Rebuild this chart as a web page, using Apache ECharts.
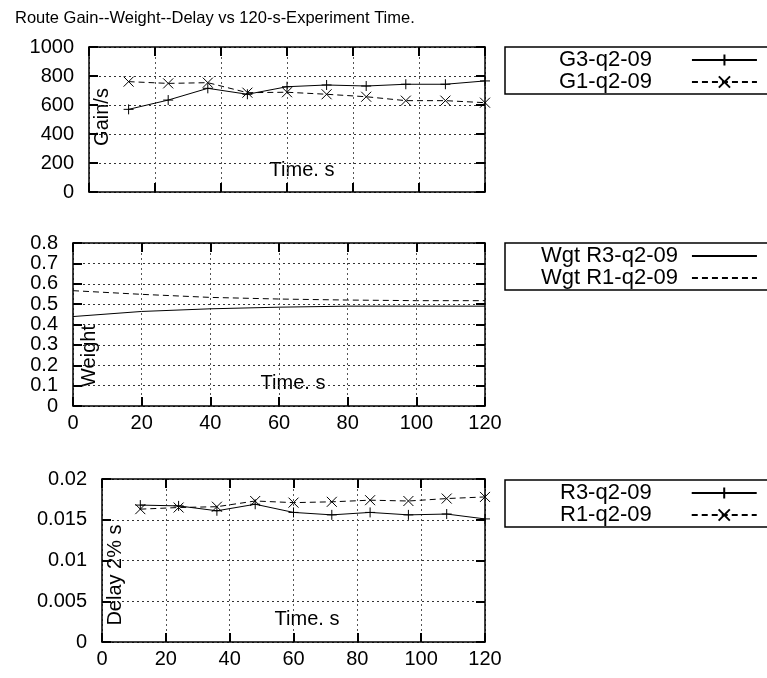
<!DOCTYPE html>
<html>
<head>
<meta charset="utf-8">
<script src="https://cdn.jsdelivr.net/npm/echarts@6/dist/echarts.min.js"></script>
<style>
html, body { margin: 0; padding: 0; background: #fff; }
#chart { width: 767px; height: 678px; }
</style>
</head>
<body>
<div id="chart"></div>
<script>
// sample times, s
var sampleTimes = [12, 24, 36, 48, 60, 72, 84, 96, 108, 120];
var gainG3 = [570, 634, 715, 674, 726, 738, 731, 743, 743, 766];
var gainG1 = [761, 749, 754, 685, 688, 674, 657, 630, 630, 616];

var weightTimes = [0, 20, 40, 60, 80, 100, 120];
var weightR3 = [0.439, 0.464, 0.477, 0.485, 0.490, 0.490, 0.490];
var weightR1 = [0.566, 0.548, 0.533, 0.525, 0.520, 0.517, 0.517];

var delayR3 = [0.0168, 0.0167, 0.0161, 0.0169, 0.0159, 0.0156, 0.0159, 0.0156, 0.0157, 0.0151];
var delayR1 = [0.0163, 0.0165, 0.0166, 0.0173, 0.0171, 0.0172, 0.0174, 0.0173, 0.0176, 0.0178];

var FONT = 'Liberation Sans, Arial, sans-serif';
var PLUS = 'path://M0,5L10,5M5,0L5,10';
var CROSS = 'path://M0,0L10,10M10,0L0,10';

function pairs(xs, ys) {
  return xs.map(function (x, i) { return [x, ys[i]]; });
}

var grids = [
  { left: 89, top: 47, width: 396, height: 145 },
  { left: 73, top: 243, width: 412, height: 163 },
  { left: 102, top: 479, width: 383, height: 163 }
];
var yRanges = [
  { min: 0, max: 1000, interval: 200 },
  { min: 0, max: 0.8, interval: 0.1 },
  { min: 0, max: 0.02, interval: 0.005 }
];
var xLabelsShown = [false, true, true];

var xAxes = [], yAxes = [];
grids.forEach(function (g, i) {
  var frameLine = { show: true, onZero: false, lineStyle: { color: '#000', width: 1.5 } };
  var tick = { show: true, inside: true, length: 9, lineStyle: { color: '#000', width: 2 } };
  // bottom x
  xAxes.push({
    gridIndex: i, type: 'value', position: 'bottom', min: 0, max: 120, interval: 20,
    axisLine: frameLine, axisTick: tick,
    axisLabel: { show: xLabelsShown[i], color: '#000', fontSize: 20, fontFamily: FONT, margin: 7 },
    splitLine: { show: true, lineStyle: { type: [2, 3], color: '#555', width: 1 } }
  });
  // top x (mirror ticks)
  xAxes.push({
    gridIndex: i, type: 'value', position: 'top', min: 0, max: 120, interval: 20,
    axisLine: frameLine, axisTick: tick, axisLabel: { show: false }, splitLine: { show: false }
  });
  yAxes.push({
    gridIndex: i, type: 'value', position: 'left',
    min: yRanges[i].min, max: yRanges[i].max, interval: yRanges[i].interval,
    axisLine: frameLine, axisTick: tick,
    axisLabel: { color: '#000', fontSize: 20, fontFamily: FONT, margin: 15,
                 formatter: function (v) { return String(+v.toFixed(4)); } },
    splitLine: { show: true, lineStyle: { type: [2, 3], color: '#333', width: 1 } }
  });
  yAxes.push({
    gridIndex: i, type: 'value', position: 'right',
    min: yRanges[i].min, max: yRanges[i].max, interval: yRanges[i].interval,
    axisLine: frameLine, axisTick: tick, axisLabel: { show: false }, splitLine: { show: false }
  });
});

function lineSeries(name, gi, data, dashed, symbol) {
  return {
    name: name, type: 'line', xAxisIndex: gi * 2, yAxisIndex: gi * 2, data: data,
    symbol: symbol || 'circle', symbolSize: 10, showSymbol: !!symbol,
    lineStyle: { color: '#000', width: 1, type: dashed ? [6, 4] : 'solid' },
    itemStyle: { color: '#000', borderColor: '#000', borderWidth: 1, opacity: symbol ? 1 : 0 },
    emphasis: { disabled: true }
  };
}

// gnuplot-style key: box, right-aligned titles, sample line on the right
function legendBox(names, top, padLeft, gapPad) {
  return {
    data: names, orient: 'vertical', left: 505, top: top,
    align: 'right', itemWidth: 65, itemHeight: 14, itemGap: 0,
    padding: [2, 120, 1, padLeft],
    borderColor: '#000', borderWidth: 1.5, borderRadius: 0,
    selectedMode: false,
    textStyle: { color: '#000', fontSize: 22, fontFamily: FONT, padding: [0, gapPad, 0, 0] }
  };
}

function sideLabel(text, x, y) {
  return { type: 'text', x: x, y: y, rotation: Math.PI / 2,
    style: { text: text, fill: '#000', font: '20px ' + FONT, align: 'center', verticalAlign: 'middle' } };
}
function timeLabel(x, y) {
  return { type: 'text', x: x, y: y,
    style: { text: 'Time. s', fill: '#000', font: '20px ' + FONT, align: 'center', verticalAlign: 'middle' } };
}

var chart = echarts.init(document.getElementById('chart'));
chart.setOption({
  animation: false,
  backgroundColor: '#fff',
  title: {
    text: 'Route Gain--Weight--Delay vs 120-s-Experiment Time.',
    left: 10, top: 5,
    textStyle: { color: '#000', fontSize: 16.5, fontWeight: 'normal', fontFamily: FONT }
  },
  grid: grids,
  xAxis: xAxes,
  yAxis: yAxes,
  legend: [
    legendBox(['G3-q2-09', 'G1-q2-09'], 47, 54, 35),
    legendBox(['Wgt R3-q2-09', 'Wgt R1-q2-09'], 243, 36, 9),
    legendBox(['R3-q2-09', 'R1-q2-09'], 480, 55, 35)
  ],
  graphic: [
    sideLabel('Gain/s', 102, 117),
    sideLabel('Weight', 89, 356),
    sideLabel('Delay 2% s', 115, 575),
    timeLabel(302, 170),
    timeLabel(293, 383),
    timeLabel(307, 619)
  ],
  series: [
    lineSeries('G3-q2-09', 0, pairs(sampleTimes, gainG3), false, PLUS),
    lineSeries('G1-q2-09', 0, pairs(sampleTimes, gainG1), true, CROSS),
    lineSeries('Wgt R3-q2-09', 1, pairs(weightTimes, weightR3), false, null),
    lineSeries('Wgt R1-q2-09', 1, pairs(weightTimes, weightR1), true, null),
    lineSeries('R3-q2-09', 2, pairs(sampleTimes, delayR3), false, PLUS),
    lineSeries('R1-q2-09', 2, pairs(sampleTimes, delayR1), true, CROSS)
  ]
});
</script>
</body>
</html>
